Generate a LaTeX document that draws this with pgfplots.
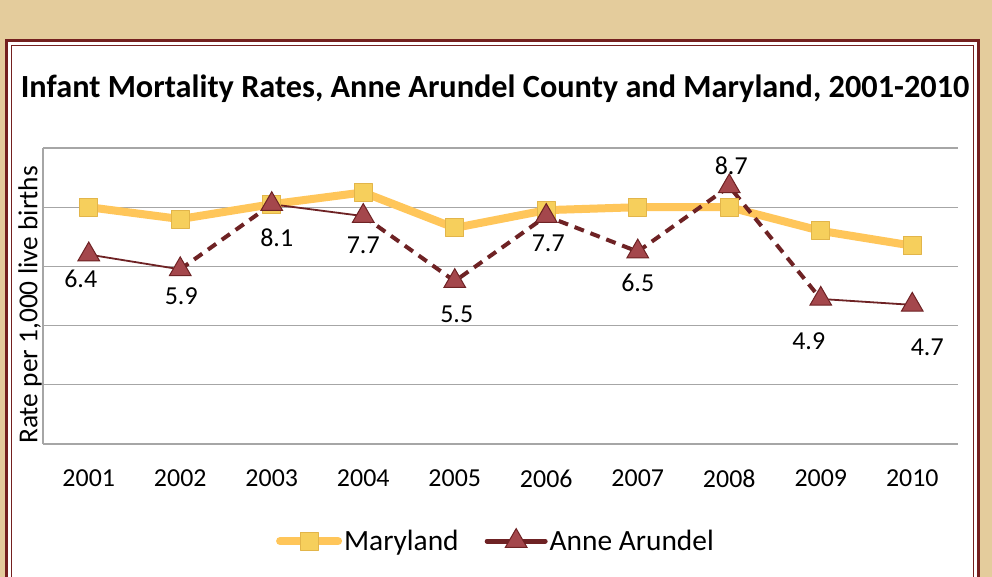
\documentclass[border=0pt]{standalone}
\usepackage{pgfplots}
\pgfplotsset{compat=1.18}
\usepackage{pgfplotstable}
\usepackage{fontspec}
\setmainfont{Carlito}
\definecolor{bgtan}{HTML}{E4CC9C}
\definecolor{frame}{HTML}{74201F}
\definecolor{mdy}{HTML}{FFC65A}
\definecolor{mdsq}{HTML}{F6CF5C}
\definecolor{mdsqd}{HTML}{E2B54A}
\definecolor{aared}{HTML}{6E2224}
\definecolor{aatri}{HTML}{A4474C}
\definecolor{gridg}{HTML}{A6A6A6}

\pgfplotstableread{
x y
0 8.0
1 7.6
2 8.1
3 8.5
4 7.3
5 7.9
6 8.0
7 8.0
8 7.2
9 6.7
}\mdtab

\pgfplotstableread{
x y dx dy
0 6.4 -8 -24
1 5.9 1 -27
2 8.1 5 -34
3 7.7 0 -29
4 5.5 2 -33
5 7.7 2 -27
6 6.5 0 -31
7 8.7 2 21
8 4.9 -12 -42
9 4.7 15 -42
}\aatab

\pgfplotsset{
  mdleg/.style={legend image code/.code={\draw[mark repeat=2,mark phase=2,##1,line cap=round] plot coordinates {(0bp,0bp)(29bp,0bp)(58bp,0bp)};}},
  aaleg/.style={legend image code/.code={\draw[aared, line width=5bp, line cap=round] (0bp,0bp) -- (58bp,0bp); \draw[##1] plot coordinates {(29bp,0bp)};}},
}

\begin{document}
\begin{tikzpicture}
\fill[bgtan] (0bp,0bp) rectangle (992bp,577bp);
\fill[white] (6bp,-10bp) rectangle (978bp,536bp);
\draw[frame, line width=3bp] (6bp,-10bp) -- (6bp,536bp) -- (978bp,536bp) -- (978bp,-10bp);
\draw[frame, line width=1bp] (11bp,-10bp) -- (11bp,531bp) -- (973bp,531bp) -- (973bp,-10bp);
\node[font=\bfseries\fontsize{32.4}{38}\selectfont] at (495bp,488bp) {Infant Mortality Rates, Anne Arundel County and Maryland, 2001-2010};
\begin{axis}[
  at={(43bp,133bp)}, anchor=south west,
  scale only axis, width=915bp, height=296bp,
  xmin=-0.5, xmax=9.5, ymin=0, ymax=10,
  xtick={0,...,9},
  xticklabels={2001,2002,2003,2004,2005,2006,2007,2008,2009,2010},
  ytick={0,2,...,10}, yticklabels={},
  ymajorgrids, grid style={color=gridg, line width=1.3bp},
  axis x line*=bottom, axis y line*=left,
  axis line style={color=gridg, line width=1.5bp, -},
  major tick length=0pt, tick style={draw=none},
  font=\fontsize{26}{30}\selectfont,
  every x tick label/.append style={yshift=-22bp},
  ylabel={Rate per 1,000 live births},
  every axis y label/.style={at={(axis description cs:-0.0142,0.47)}, rotate=90, anchor=center, font=\fontsize{27.5}{32}\selectfont},
  clip=false,
  legend style={at={(axis description cs:0.495,-0.328)}, anchor=center, draw=none, fill=none,
     legend columns=2, font=\fontsize{29.5}{34}\selectfont,
     /tikz/every even column/.append style={column sep=24bp},
     inner sep=0pt},
  legend cell align=left,
]
\addplot[color=mdy, line width=8bp, line join=round,
  mark=square*, mark size=9bp, mark options={fill=mdsq, draw=mdsqd, line width=1bp}, mdleg]
  table[x=x,y=y]{\mdtab};
\addlegendentry{Maryland}
% thin solid segments
\addplot[aared, line width=1.8bp, forget plot] table[x=x,y=y, restrict x to domain=0:1]{\aatab};
\addplot[aared, line width=1.8bp, forget plot] table[x=x,y=y, restrict x to domain=2:3]{\aatab};
\addplot[aared, line width=1.8bp, forget plot] table[x=x,y=y, restrict x to domain=8:9]{\aatab};
% dashed segments
\addplot[aared, line width=4bp, dash pattern=on 10bp off 7bp, forget plot] table[x=x,y=y, restrict x to domain=1:2]{\aatab};
\addplot[aared, line width=4bp, dash pattern=on 10bp off 7bp, forget plot] table[x=x,y=y, restrict x to domain=3:8]{\aatab};
% markers with labels
\addplot[only marks, mark=triangle*, mark size=12.5bp,
  mark options={fill=aatri, draw=aared, line width=1bp},
  point meta=explicit symbolic,
  visualization depends on={\thisrow{dx} \as \dx},
  visualization depends on={\thisrow{dy} \as \dy},
  nodes near coords,
  every node near coord/.append style={anchor=center, xshift=\dx bp, yshift=\dy bp, text=black, font=\fontsize{26}{30}\selectfont},
  aaleg]
  table[x=x,y=y,meta=y]{\aatab};
\addlegendentry{Anne Arundel}
\end{axis}
\pgfresetboundingbox
\path (0bp,0bp) rectangle (992bp,577bp);
\end{tikzpicture}
\end{document}
